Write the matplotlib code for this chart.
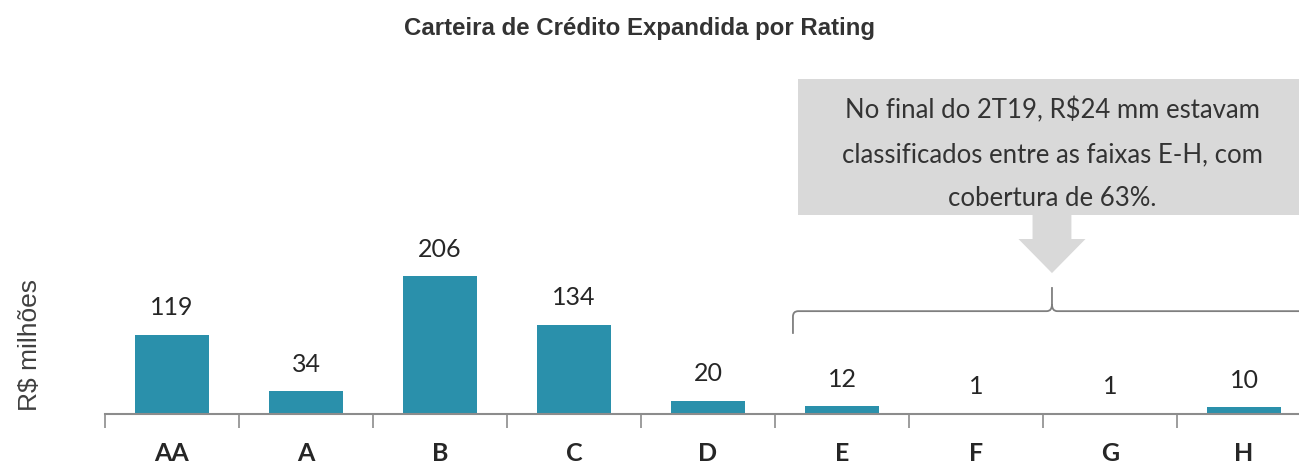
import matplotlib
matplotlib.use("Agg")
import matplotlib.pyplot as plt
from matplotlib.patches import Rectangle, Polygon, PathPatch
from matplotlib.path import Path

# data
ratings = ["AA", "A", "B", "C", "D", "E", "F", "G", "H"]
values = [119, 34, 206, 134, 20, 12, 1, 1, 10]
value_labels = ["119", "34", "206", "134", "20", "12", "1", "1", "10"]

title = "Carteira de Crédito Expandida por Rating"
ylabel = "R$ milhões"
note = "No final do 2T19, R$24 mm estavam\nclassificados entre as faixas E-H, com\ncobertura de 63%."

BAR = "#2a90ab"
GREY_BOX = "#d9d9d9"
AXIS = "#8c8c8c"
TXT = "#262626"

W, H = 1299, 464
fig = plt.figure(figsize=(W / 100, H / 100), dpi=100)

# axes spans px 105..1311 horizontally, baseline at y=415 px
left, right = 105 / W, 1311 / W
bottom, top = (H - 415) / H, (H - 41) / H
ax = fig.add_axes([left, bottom, right - left, top - bottom])
ax.set_xlim(-0.5, len(ratings) - 0.5)
ax.set_ylim(0, 560)

x = list(range(len(ratings)))
ax.bar(x, values, width=0.55, color=BAR, zorder=2)
for xi, v, lab in zip(x, values, value_labels):
    ax.annotate(lab, (xi, v), xytext=(0, 20), textcoords="offset points",
                ha="center", va="center", fontsize=18, family="Lato",
                color=TXT)

for s in ["top", "right", "left"]:
    ax.spines[s].set_visible(False)
ax.spines["bottom"].set_color(AXIS)
ax.spines["bottom"].set_linewidth(1.5)
ax.set_yticks([])
ax.set_xticks([i - 0.5 for i in range(len(ratings) + 1)])
ax.set_xticklabels([])
ax.tick_params(axis="x", direction="out", length=10, width=1.2, color=AXIS)
for xi, lab in zip(x, ratings):
    ax.annotate(lab, (xi, 0), xytext=(0, -28), textcoords="offset points",
                ha="center", va="center", fontsize=18, fontweight="bold",
                family="Lato", color=TXT)

fig.text(30 / W, 1 - 345 / H, ylabel, rotation=90, ha="center", va="center",
         fontsize=19, family="Liberation Sans", color="#404040")
fig.text(640 / W, 1 - 28 / H, title, ha="center", va="center",
         fontsize=17.3, fontweight="bold", family="Liberation Sans",
         color="#333333")

# callout box + arrow (data coords)
ax.add_patch(Rectangle((4.67, 298), 4.5, 203, facecolor=GREY_BOX,
                       edgecolor="none", clip_on=False, zorder=1))
cx = 6.567
ax.add_patch(Polygon([(cx - 0.145, 298), (cx + 0.145, 298), (cx + 0.145, 262),
                      (cx + 0.25, 262), (cx, 211), (cx - 0.25, 262),
                      (cx - 0.145, 262)], closed=True, facecolor=GREY_BOX,
                     edgecolor="none", clip_on=False, zorder=1))
ax.text(cx, 391, note, ha="center", va="center", fontsize=18.5, family="Lato",
        color="#333333", linespacing=1.95, zorder=3)

# brace over E-H
y0, yb, yt = 154, 120, 190
r = 0.04
verts = [(4.634, yb), (4.634, y0 - 8), (4.634, y0), (4.634 + r, y0),
         (cx - r, y0), (cx, y0), (cx, y0 + 10), (cx, yt),
         (cx, y0 + 10), (cx, y0), (cx + r, y0), (9.2, y0)]
codes = [Path.MOVETO, Path.LINETO, Path.CURVE3, Path.CURVE3,
         Path.LINETO, Path.CURVE3, Path.CURVE3, Path.LINETO,
         Path.MOVETO, Path.CURVE3, Path.CURVE3, Path.LINETO]
ax.add_patch(PathPatch(Path(verts, codes), facecolor="none", edgecolor="#7f7f7f",
                       linewidth=1.3, clip_on=False))

fig.savefig("out.png", dpi=100)
